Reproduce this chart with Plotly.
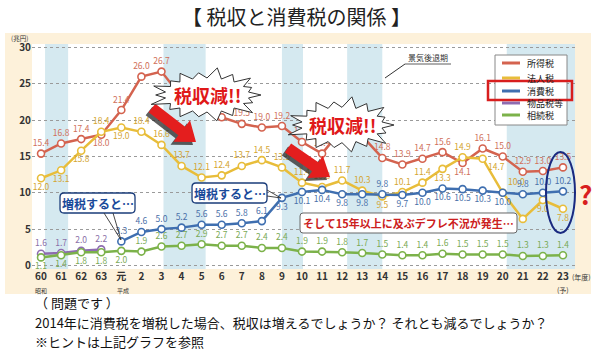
import plotly.graph_objects as go
import numpy as np

# ---------------- data ----------------
years = ["60", "61", "62", "63", "元", "2", "3", "4", "5", "6", "7", "8", "9", "10",
         "11", "12", "13", "14", "15", "16", "17", "18", "19", "20", "21", "22", "23"]
income_tax = [15.4, 16.8, 17.4, 18.0, 21.4, 26.0, 26.7, 23.2, 23.7, 20.4, 19.5, 19.0, 19.2, 17.0,
              15.4, 18.8, 17.8, 14.8, 13.9, 14.7, 15.6, 14.1, 16.1, 15.0, 12.9, 13.0, 13.5]
corporate_tax = [12.0, 13.1, 15.8, 18.4, 19.0, 18.4, 16.6, 13.7, 12.1, 12.4, 13.7, 14.5, 13.5, 11.4,
                 10.8, 11.7, 10.3, 9.5, 10.1, 11.4, 13.3, 14.9, 14.7, 10.0, 6.4, 9.0, 7.8]
consumption_tax = [None, None, None, None, 3.3, 4.6, 5.0, 5.2, 5.6, 5.6, 5.8, 6.1, 9.3, 10.1,
                   10.4, 9.8, 9.8, 9.8, 9.7, 10.0, 10.6, 10.5, 10.3, 10.0, 9.8, 10.0, 10.2]
commodity_tax = [1.6, 1.7, 2.0, 2.2] + [None] * 23
inheritance_tax = [1.1, 1.4, 1.8, 1.8, 2.0, 1.9, 2.6, 2.7, 2.9, 2.7, 2.7, 2.4, 2.4, 1.9,
                   1.9, 1.8, 1.7, 1.5, 1.4, 1.4, 1.6, 1.5, 1.5, 1.5, 1.3, 1.3, 1.4]
series_names = ["所得税", "法人税", "消費税", "物品税等", "相続税"]
# recession periods (景気後退期) in category-index units
recession_bands = [(0.2, 1.35), (6.1, 8.2), (12.0, 13.05), (15.25, 17.0), (23.2, 26.6)]

# ---------------- style ----------------
FONT = "Noto Sans CJK JP, Noto Sans, sans-serif"
colors = ["#d4634f", "#e8bd3a", "#3f6fb0", "#8e6cb0", "#7cb24a"]
text_colors = ["#d0705a", "#d4a530", "#4a70a8", "#8a70a8", "#7aaa55"]

T, Bm, Lm, Rm = 44, 91, 32, 25
W_FIG, H_FIG = 600, 360
PW, PH = W_FIG - Lm - Rm, H_FIG - T - Bm
PB = H_FIG - Bm


def px(x):
    return (x - Lm) / PW


def py(y):
    return (PB - y) / PH


def pt(x, y):
    return f"{px(x):.4f},{py(y):.4f}"


def poly_path(points):
    return "M " + " L ".join(pt(x, y) for x, y in points) + " Z"


def rounded_rect(x0, y0, x1, y1, r):
    return (f"M {pt(x0 + r, y0)} L {pt(x1 - r, y0)} Q {pt(x1, y0)} {pt(x1, y0 + r)} "
            f"L {pt(x1, y1 - r)} Q {pt(x1, y1)} {pt(x1 - r, y1)} L {pt(x0 + r, y1)} "
            f"Q {pt(x0, y1)} {pt(x0, y1 - r)} L {pt(x0, y0 + r)} Q {pt(x0, y0)} {pt(x0 + r, y0)} Z")


def burst(cx, cy, rx, ry, n=18):
    fac = [1.0, 0.9, 1.1, 0.95, 1.05, 0.88]
    pts = []
    for k in range(2 * n):
        a = np.pi * k / n
        if k % 2 == 0:
            f = fac[(k // 2) % len(fac)]
            r1, r2 = rx * f, ry * f
        else:
            r1, r2 = rx * 0.78, ry * 0.68
        pts.append((cx + r1 * np.cos(a), cy + r2 * np.sin(a)))
    return poly_path(pts)


def arrow(tx, ty, hx, hy, w=11, hw=27, hl=18):
    t = np.array([tx, ty], float)
    h = np.array([hx, hy], float)
    d = (h - t) / np.linalg.norm(h - t)
    nrm = np.array([-d[1], d[0]])
    neck = h - d * hl
    pts = [t + nrm * w / 2, neck + nrm * w / 2, neck + nrm * hw / 2, h,
           neck - nrm * hw / 2, neck - nrm * w / 2, t - nrm * w / 2]
    return poly_path([tuple(p) for p in pts])


x_idx = list(range(len(years)))


def labels(vals, blank=()):
    return ["" if (v is None or i in blank) else f"{v:.1f}" for i, v in enumerate(vals)]


income_pos = ["top center"] * 27
income_pos[3] = "bottom center"
income_pos[21] = "bottom center"

corp_pos = ["top center"] * 27
for i in (0, 1, 2, 4, 17, 20, 24, 25, 26):
    corp_pos[i] = "bottom center"
corp_pos[22] = "bottom right"
corp_pos[23] = "top right"

cons_pos = ["top center"] * 27
for i in list(range(12, 17)) + list(range(18, 24)):
    cons_pos[i] = "bottom center"

inh_pos = ["bottom center"] * 5 + ["top center"] * 22

series = [income_tax, corporate_tax, consumption_tax, commodity_tax, inheritance_tax]
positions = [income_pos, corp_pos, cons_pos, ["top center"] * 27, inh_pos]
# labels that sit under the bursts in the reference are hidden there
blanks = [(7, 8, 9, 15, 16), (24,), (), (), ()]

fig = go.Figure()
for name, vals, col, tcol, pos, bl in zip(series_names, series, colors, text_colors, positions, blanks):
    fig.add_trace(go.Scatter(
        x=x_idx, y=vals, name=name, mode="lines+markers+text",
        line=dict(color=col, width=2.5),
        marker=dict(size=7, color="white", line=dict(color=col, width=1.6)),
        text=labels(vals, bl), textposition=pos,
        textfont=dict(size=8.5, color=tcol, family=FONT),
        cliponaxis=False, connectgaps=False, showlegend=False,
    ))

shapes = []
# beige frame and white plot area
shapes.append(dict(type="rect", xref="paper", yref="paper", x0=px(5), x1=px(591), y0=py(294), y1=py(33),
                   fillcolor="#fdf1da", line_width=0, layer="below"))
shapes.append(dict(type="rect", xref="paper", yref="paper", x0=0, x1=1, y0=0, y1=1,
                   fillcolor="white", line_width=0, layer="below"))
for a, b in recession_bands:
    shapes.append(dict(type="rect", xref="x", yref="paper", x0=a, x1=b, y0=0, y1=1,
                       fillcolor="#d5e9f0", line_width=0, layer="below"))

# arrows with shadow
for (tx, ty, hx, hy) in [(152, 108, 196, 142), (288, 148, 330, 177)]:
    shapes.append(dict(type="path", xref="paper", yref="paper", path=arrow(tx - 3, ty + 3, hx - 3, hy + 3),
                       fillcolor="rgba(40,40,40,0.75)", line_width=0, layer="above"))
    shapes.append(dict(type="path", xref="paper", yref="paper", path=arrow(tx, ty, hx, hy),
                       fillcolor="#e41e1e", line_width=0, layer="above"))

# bursts
for (cx, cy, rx, ry) in [(207, 95, 54, 25), (342, 125, 52, 26)]:
    shapes.append(dict(type="path", xref="paper", yref="paper", path=burst(cx, cy, rx, ry),
                       fillcolor="white", line=dict(color="#333", width=1), layer="above"))

# callout boxes
shapes.append(dict(type="path", xref="paper", yref="paper", path=rounded_rect(60, 193, 135, 213, 4),
                   fillcolor="white", line=dict(color="#1a3c7a", width=1.3), layer="above"))
shapes.append(dict(type="path", xref="paper", yref="paper",
                   path=f"M {pt(104, 213)} L {pt(121, 240)} L {pt(113, 213)}",
                   line=dict(color="#333", width=0.9), layer="above"))
shapes.append(dict(type="path", xref="paper", yref="paper", path=rounded_rect(192, 183, 267, 203, 4),
                   fillcolor="white", line=dict(color="#1a3c7a", width=1.3), layer="above"))
shapes.append(dict(type="path", xref="paper", yref="paper",
                   path=f"M {pt(267, 190)} L {pt(281, 198)} L {pt(267, 196)}",
                   line=dict(color="#333", width=0.9), layer="above"))
shapes.append(dict(type="path", xref="paper", yref="paper", path=rounded_rect(300, 213, 517, 233, 3),
                   fillcolor="white", line=dict(color="#666", width=1), layer="above"))

# ellipse around the last year
shapes.append(dict(type="circle", xref="paper", yref="paper", x0=px(546), x1=px(575), y0=py(233), y1=py(152),
                   line=dict(color="#1a2a80", width=2), layer="above"))
# 景気後退期 leader line and underline
shapes.append(dict(type="line", xref="paper", yref="paper", x0=px(385), y0=py(78), x1=px(405), y1=py(64),
                   line=dict(color="#333", width=1), layer="above"))
shapes.append(dict(type="line", xref="paper", yref="paper", x0=px(405), y0=py(64), x1=px(451), y1=py(64),
                   line=dict(color="#333", width=0.8), layer="above"))

# hand-placed legend box
shapes.append(dict(type="rect", xref="paper", yref="paper", x0=px(495), x1=px(567), y0=py(125), y1=py(55),
                   fillcolor="white", line=dict(color="#888", width=1), layer="above"))
legend_rows = [63, 78, 91, 103, 115]
for yy, col in zip(legend_rows, colors):
    shapes.append(dict(type="line", xref="paper", yref="paper", x0=px(502), x1=px(520), y0=py(yy), y1=py(yy),
                       line=dict(color=col, width=3), layer="above"))
# red box highlighting 消費税 in the legend
shapes.append(dict(type="rect", xref="paper", yref="paper", x0=px(488), x1=px(572), y0=py(100), y1=py(81),
                   line=dict(color="#d81e1e", width=2.5), layer="above"))


def ann(x, y, text, size, color="#222", bold=False, xanchor="center", **kw):
    if bold:
        text = f"<b>{text}</b>"
    return dict(x=px(x), y=py(y), xref="paper", yref="paper", text=text, showarrow=False,
                xanchor=xanchor, yanchor="middle", font=dict(size=size, color=color, family=FONT), **kw)


annotations = [
    ann(296, 17, "【 税収と消費税の関係 】", 20, "#222"),
    ann(19, 38, "(兆円)", 6.5, "#333"),
    ann(428, 58, "景気後退期", 8, "#333"),
    ann(207, 95, "税収減!!", 18, "#e01818", bold=True),
    ann(342, 125, "税収減!!", 18, "#e01818", bold=True),
    ann(97.5, 203, "増税すると…", 12, "#1a4a9a", bold=True),
    ann(229.5, 193, "増税すると…", 12, "#1a4a9a", bold=True),
    ann(408.5, 223, "そして15年以上に及ぶデフレ不況が発生…", 11, "#cc2020", bold=True),
    ann(585, 193, "?", 26, "#d81e1e", bold=True),
    ann(41, 290, "昭和", 6, "#333"),
    ann(123, 290, "平成", 6, "#333"),
    ann(563, 290, "(予)", 7, "#333"),
    ann(581, 277, "(年度)", 7, "#333"),
    ann(33, 302, "（ 問題です ）", 13, "#111", xanchor="left"),
    ann(33, 322, "2014年に消費税を増税した場合、税収は増えるでしょうか？ それとも減るでしょうか？", 13, "#111", xanchor="left"),
    ann(33, 341, "※ヒントは上記グラフを参照", 13, "#111", xanchor="left"),
]
for yy, name in zip(legend_rows, series_names):
    annotations.append(ann(525, yy, name, 9, "#222", xanchor="left"))

fig.update_layout(
    width=W_FIG, height=H_FIG,
    margin=dict(l=Lm, r=Rm, t=T, b=Bm, pad=0),
    paper_bgcolor="white", plot_bgcolor="rgba(0,0,0,0)",
    font=dict(family=FONT, color="#333"),
    showlegend=False,
    shapes=shapes, annotations=annotations,
)
fig.update_xaxes(range=[-0.45, 26.6], tickmode="array", tickvals=x_idx,
                 ticktext=[f"<b>{y}</b>" for y in years], tickfont=dict(size=10, color="#333"),
                 showgrid=False, zeroline=False, showline=False, ticks="")
fig.update_yaxes(range=[-0.5, 30.5], tickvals=[0, 5, 10, 15, 20, 25, 30],
                 ticktext=[f"<b>{v}</b>" for v in [0, 5, 10, 15, 20, 25, 30]],
                 tickfont=dict(size=10, color="#333"), showgrid=True, gridcolor="#9a9a9a",
                 griddash="dot", gridwidth=1, zeroline=False, showline=False, ticks="")

fig.write_html("out.html", config={"displayModeBar": False},
               post_script="document.body.style.margin='0px'; document.body.style.overflow='hidden';")
